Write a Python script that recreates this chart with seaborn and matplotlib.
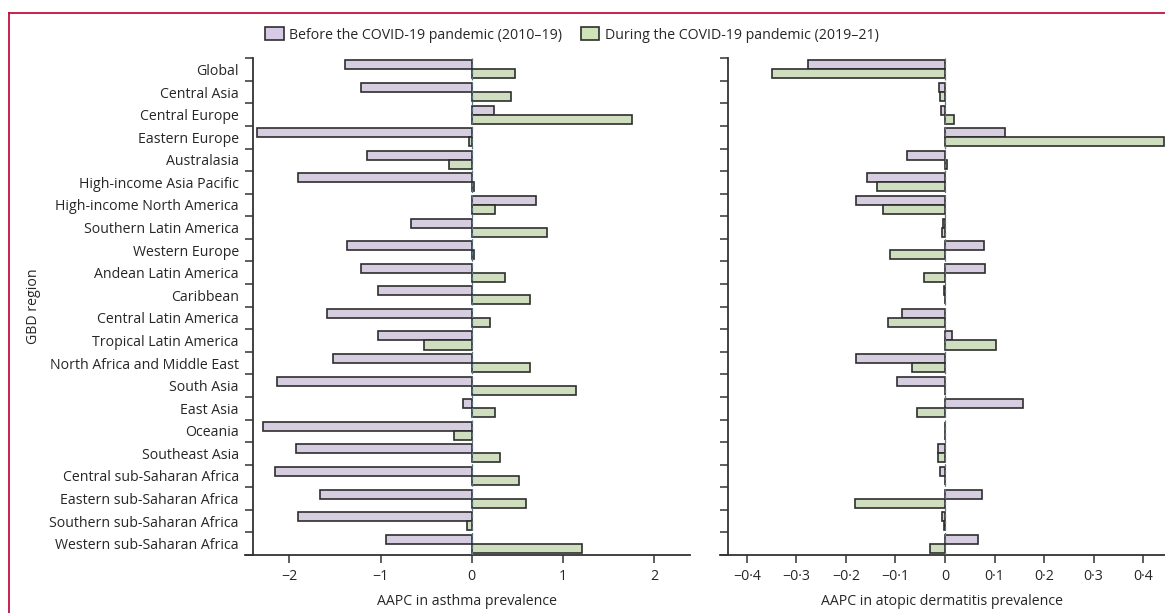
import pandas as pd
import matplotlib.pyplot as plt
import seaborn as sns
from matplotlib.lines import Line2D
from matplotlib.patches import Patch
from matplotlib.ticker import FixedLocator, FuncFormatter

regions = ["Global", "Central Asia", "Central Europe", "Eastern Europe", "Australasia",
           "High-income Asia Pacific", "High-income North America", "Southern Latin America",
           "Western Europe", "Andean Latin America", "Caribbean", "Central Latin America",
           "Tropical Latin America", "North Africa and Middle East", "South Asia", "East Asia",
           "Oceania", "Southeast Asia", "Central sub-Saharan Africa", "Eastern sub-Saharan Africa",
           "Southern sub-Saharan Africa", "Western sub-Saharan Africa"]

asthma_before = [-1.39, -1.21, 0.24, -2.35, -1.15, -1.91, 0.70, -0.67, -1.37, -1.21, -1.03,
                 -1.59, -1.03, -1.52, -2.14, -0.10, -2.29, -1.93, -2.16, -1.66, -1.90, -0.94]
asthma_during = [0.47, 0.43, 1.76, -0.03, -0.25, 0.02, 0.25, 0.83, 0.02, 0.37, 0.64,
                 0.20, -0.52, 0.64, 1.14, 0.26, -0.19, 0.31, 0.52, 0.59, -0.05, 1.21]

ad_before = [-0.276, -0.012, -0.009, 0.122, -0.077, -0.157, -0.180, -0.003, 0.079, 0.081, -0.001,
             -0.087, 0.015, -0.180, -0.096, 0.157, 0.001, -0.015, -0.011, 0.074, -0.005, 0.067]
ad_during = [-0.349, -0.011, 0.019, 0.442, 0.005, -0.138, -0.126, -0.005, -0.110, -0.042, 0.001,
             -0.114, 0.102, -0.067, 0.001, -0.057, 0.001, -0.015, 0.001, -0.182, -0.002, -0.030]

periods = ["Before the COVID-19 pandemic (2010\u201319)", "During the COVID-19 pandemic (2019\u201321)"]
colors = ["#d6cae4", "#cfe3b9"]
txt = "#262626"
fs = 10.2

plt.rcParams["font.family"] = ["Open Sans", "DejaVu Sans"]
plt.rcParams["font.size"] = fs

def long_df(before, during):
    d1 = pd.DataFrame({"region": regions, "value": before, "period": periods[0]})
    d2 = pd.DataFrame({"region": regions, "value": during, "period": periods[1]})
    return pd.concat([d1, d2], ignore_index=True)

fig = plt.figure(figsize=(11.65, 6.13), dpi=100)
ax1 = fig.add_axes([0.210, 0.0946, 0.382, 0.8105])
ax2 = fig.add_axes([0.618, 0.0946, 0.382, 0.8105])

def fmt(v, pos, dec):
    if abs(v) < 1e-9:
        return "0"
    s = f"{abs(v):.{dec}f}".replace(".", "\u00b7")
    return ("\u2212" if v < 0 else "") + s

for ax, (b, d), xlim, ticks, dec in [
        (ax1, (asthma_before, asthma_during), (-2.49, 2.39), [-2, -1, 0, 1, 2], 0),
        (ax2, (ad_before, ad_during), (-0.454, 0.444), [-0.4, -0.3, -0.2, -0.1, 0, 0.1, 0.2, 0.3, 0.4], 1)]:
    sns.barplot(data=long_df(b, d), y="region", x="value", hue="period", orient="h",
                palette=colors, width=0.8, edgecolor="#2e2e2e", linewidth=1.2,
                legend=False, ax=ax)
    ax.axvline(0, color="#5a7487", lw=0.9, ls=(0, (3, 2)), zorder=5)
    ax.set_xlim(*xlim)
    ax.set_ylim(21.5, -0.5)
    ax.set_xticks(ticks)
    ax.xaxis.set_major_formatter(FuncFormatter(lambda v, p, dec=dec: fmt(v, p, dec)))
    ax.tick_params(axis="x", length=6, width=1.1, color="#333333", labelsize=fs,
                   labelcolor=txt, pad=4)
    ax.yaxis.set_minor_locator(FixedLocator([i - 0.5 for i in range(23)]))
    ax.tick_params(axis="y", which="minor", length=6, width=1.1, color="#333333")
    ax.tick_params(axis="y", which="major", length=0, pad=10, labelsize=fs, labelcolor=txt)
    for s in ["top", "right"]:
        ax.spines[s].set_visible(False)
    for s in ["left", "bottom"]:
        ax.spines[s].set_color("#333333")
        ax.spines[s].set_linewidth(1.3)
    ax.spines["left"].set_position(("axes", 0.018))
    ax.set_ylabel("")

ax1.set_yticks(range(len(regions)))
ax1.set_yticklabels(regions)
ax2.set_yticks(range(len(regions)))
ax2.set_yticklabels([])
ax1.set_xlabel("AAPC in asthma prevalence", fontsize=fs, color=txt, labelpad=7)
ax2.set_xlabel("AAPC in atopic dermatitis prevalence", fontsize=fs, color=txt, labelpad=7)
fig.text(0.029, 0.5, "GBD region", rotation=90, va="center", ha="center",
         fontsize=fs, color=txt)

handles = [Patch(facecolor=c, edgecolor="#2e2e2e", linewidth=1.2) for c in colors]
fig.legend(handles, periods, loc="center", bbox_to_anchor=(0.491, 0.943), ncol=2,
           frameon=False, fontsize=fs, handlelength=1.3, handleheight=1.0,
           handletextpad=0.4, columnspacing=1.3, labelcolor=txt)

# red frame lines (top and left)
fig.add_artist(Line2D([0.0077, 1.0], [0.979, 0.979], color="#c4103f", lw=1.3))
fig.add_artist(Line2D([0.0077, 0.0077], [0.0, 0.979], color="#c4103f", lw=1.3))

fig.savefig("out.png", dpi=100)
